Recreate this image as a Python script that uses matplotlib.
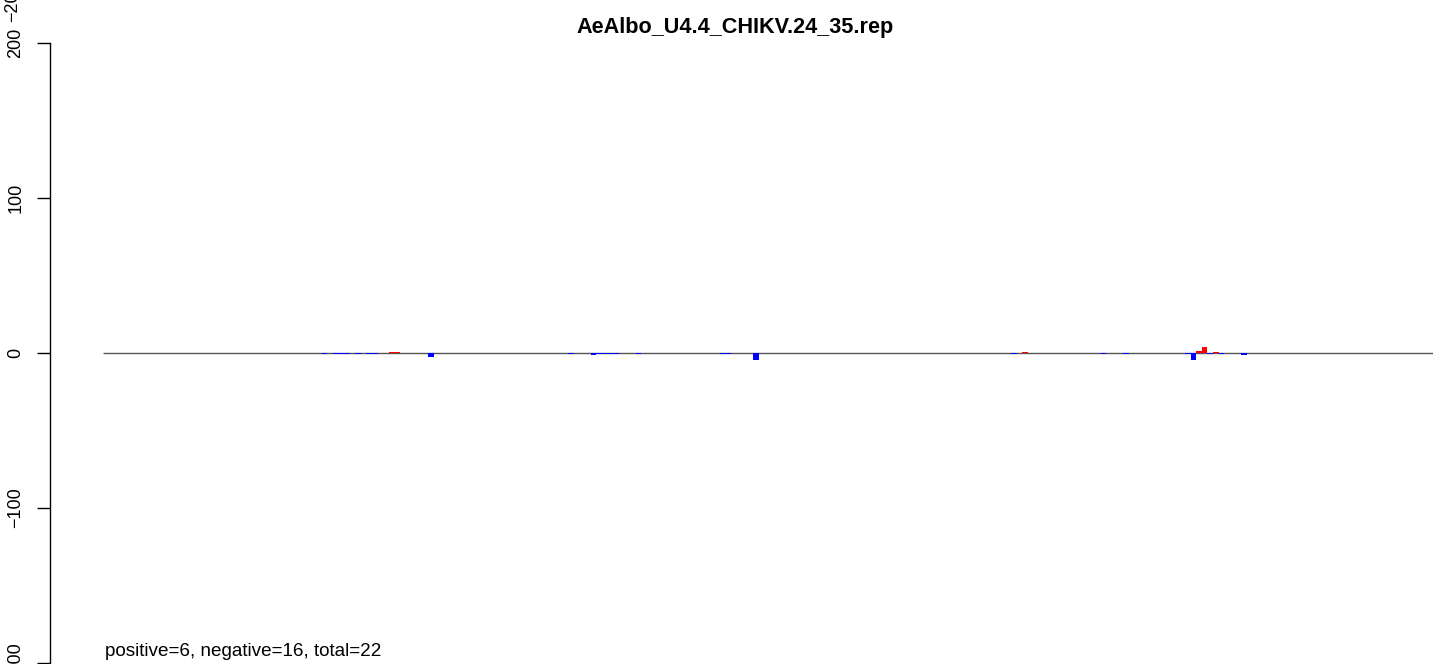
import matplotlib
matplotlib.use("Agg")
import matplotlib.pyplot as plt

plt.rcParams['font.family'] = ['Liberation Sans', 'DejaVu Sans']

# ---- data ----
title = "AeAlbo_U4.4_CHIKV.24_35.rep"
summary = "positive=6, negative=16, total=22"
n_bins = 240
neg_idx = [39, 41, 42, 43, 45, 47, 48, 58, 83, 87, 88, 89, 90, 91, 95,
           110, 111, 116, 162, 178, 182, 193, 194, 197, 199, 203]
neg_val = [-0.9, -0.9, -0.9, -0.9, -0.9, -0.9, -0.9, -2.6, -0.9, -1.3, -0.9, -0.9, -0.9, -0.9, -0.9,
           -0.9, -0.9, -4.5, -0.9, -0.9, -0.9, -0.9, -4.5, -0.9, -0.9, -1.4]
pos_idx = [51, 52, 164, 195, 196, 198]
pos_val = [0.9, 0.9, 0.9, 1.0, 3.9, 0.9]
yticks = [-200, -100, 0, 100, 200]
ytick_labels = ["\u2212200", "\u2212100", "0", "100", "200"]

W, H = 1433, 664
fig = plt.figure(figsize=(W / 100, H / 100), dpi=100)

P = 5.606          # px per bar
X0 = 103           # px of first bar
AX_L = 50
ax = fig.add_axes([AX_L / W, 0, 1 - AX_L / W, 1])
ax.set_xlim((AX_L - X0) / P, (W - X0) / P)
# y: 0 at px 353, 1.55 px per unit
ax.set_ylim(-(H - 353) / 1.55, 353 / 1.55)

ax.hlines(0, 0, n_bins, color='#555555', lw=1.0, zorder=1)
ax.bar(neg_idx, neg_val, width=1, align='edge', color='#0000FF', linewidth=0, zorder=2)
ax.bar(pos_idx, pos_val, width=1, align='edge', color='#FF0000', linewidth=0, zorder=2)

for s in ['top', 'right', 'bottom']:
    ax.spines[s].set_visible(False)
ax.spines['left'].set_bounds(-200, 200)
ax.spines['left'].set_linewidth(1.0)
ax.set_xticks([])
ax.set_yticks(yticks)
ax.set_yticklabels(ytick_labels, rotation=90, va='center')
ax.tick_params(axis='y', length=9.4, width=1.0, pad=9, labelsize=12.96)
ax.patch.set_alpha(0)

fig.text(735 / W, 1 - 33 / H, title, ha='center', va='baseline',
         fontsize=15.55, fontweight='bold')
fig.text(105 / W, 1 - 656 / H, summary, ha='left', va='baseline', fontsize=13.6)
# clipped label from the panel above
fig.text(13 / W, 1 - 1.5 / H, "\u2212200", rotation=90, ha='center', va='center',
         fontsize=12.96)

fig.savefig("out.png", dpi=100)
